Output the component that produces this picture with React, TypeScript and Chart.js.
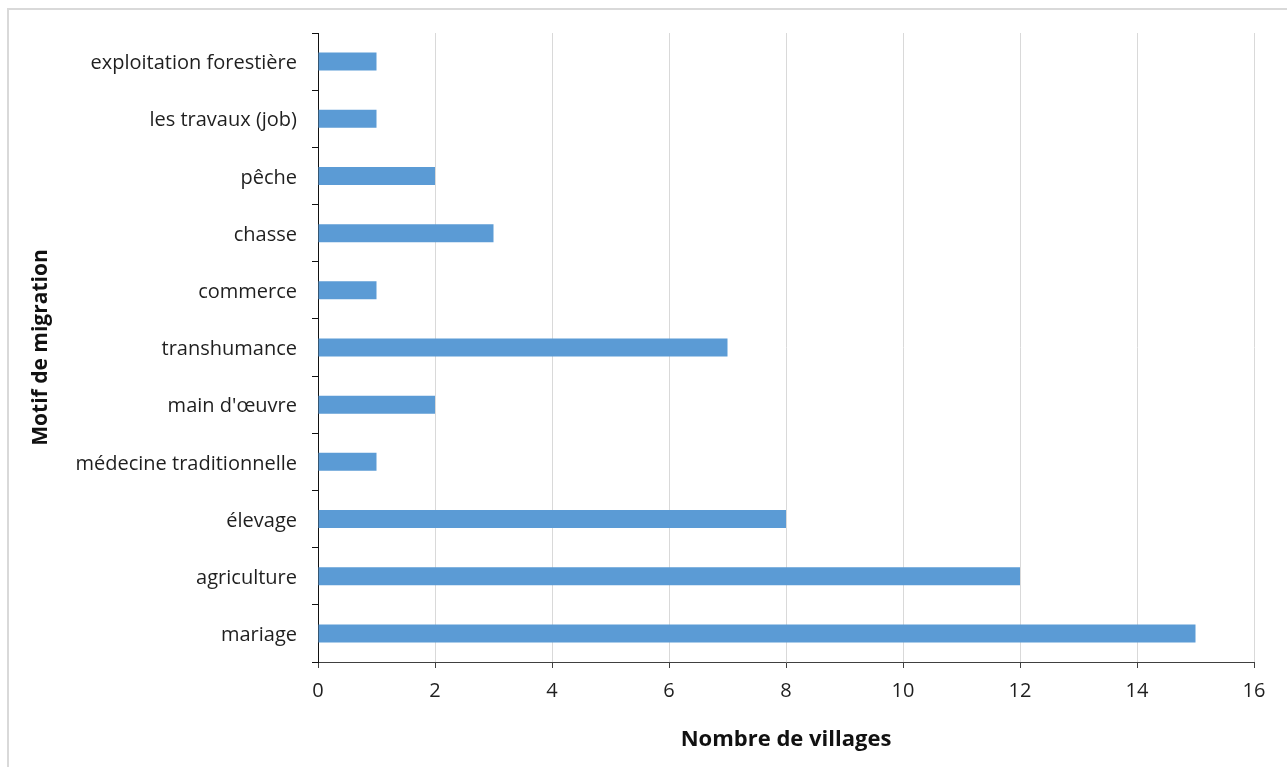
import React, { useEffect, useRef } from "react";
import { Chart, registerables } from "chart.js";

Chart.register(...registerables);

const categories = [
  "exploitation forestière",
  "les travaux (job)",
  "pêche",
  "chasse",
  "commerce",
  "transhumance",
  "main d'œuvre",
  "médecine traditionnelle",
  "élevage",
  "agriculture",
  "mariage",
];
const villageCounts = [1, 1, 2, 3, 1, 7, 2, 1, 8, 12, 15];
const xMin = 0;
const xMax = 16;
const xStep = 2;
const xTitle = "Nombre de villages";
const yTitle = "Motif de migration";

const W = 1287;
const H = 767;
const PLOT_LEFT = 318;
const PLOT_RIGHT = 1254;
const PLOT_TOP = 33;
const PLOT_BOTTOM = 662;
const PAD_LEFT = 20;
const PAD_BOTTOM = 10;

export default function App() {
  const ref = useRef<HTMLCanvasElement>(null);

  useEffect(() => {
    const font = "'Open Sans', 'DejaVu Sans', sans-serif";
    const chart = new Chart(ref.current as HTMLCanvasElement, {
      type: "bar",
      data: {
        labels: categories,
        datasets: [
          {
            data: villageCounts,
            backgroundColor: "#5b9bd5",
            borderWidth: 0,
            barPercentage: 0.315,
            categoryPercentage: 1,
          },
        ],
      },
      options: {
        indexAxis: "y",
        animation: false,
        responsive: false,
        maintainAspectRatio: false,
        layout: {
          padding: { top: PLOT_TOP, right: W - PLOT_RIGHT, left: PAD_LEFT, bottom: PAD_BOTTOM },
        },
        plugins: {
          legend: { display: false },
          tooltip: { enabled: false },
        },
        scales: {
          x: {
            type: "linear",
            min: xMin,
            max: xMax,
            ticks: {
              stepSize: xStep,
              color: "#1f1f1f",
              font: { family: font, size: 20 },
              padding: 11,
            },
            grid: {
              color: "#d9d9d9",
              tickColor: "#404040",
              tickLength: 6,
              lineWidth: 1,
            },
            border: { color: "#404040", width: 1 },
            title: {
              display: true,
              text: xTitle,
              color: "#111",
              font: { family: font, size: 22, weight: "bold" },
              padding: { top: 0, bottom: 4 },
            },
            afterFit: (s: any) => {
              s.height = H - PAD_BOTTOM - PLOT_BOTTOM;
            },
          },
          y: {
            type: "category",
            ticks: {
              color: "#1f1f1f",
              font: { family: font, size: 20 },
              padding: 15,
              labelOffset: 2,
            },
            grid: {
              offset: true,
              drawOnChartArea: false,
              color: "#111",
              tickLength: 6,
            },
            border: { color: "#111", width: 1 },
            title: {
              display: true,
              text: yTitle,
              color: "#111",
              font: { family: font, size: 21, weight: "bold" },
              padding: { top: 8, bottom: 0 },
            },
            afterFit: (s: any) => {
              s.width = PLOT_LEFT - PAD_LEFT;
            },
          },
        },
      },
    });
    return () => chart.destroy();
  }, []);

  return (
    <div>
      <div
        style={{
          position: "absolute",
          left: 7,
          top: 8,
          width: W - 7,
          height: H - 8,
          boxSizing: "border-box",
          borderTop: "2px solid #d9d9d9",
          borderLeft: "2px solid #d9d9d9",
        }}
      />
      <canvas
        ref={ref}
        width={W}
        height={H}
        style={{ position: "absolute", left: 0, top: 0, width: W, height: H }}
      />
    </div>
  );
}
